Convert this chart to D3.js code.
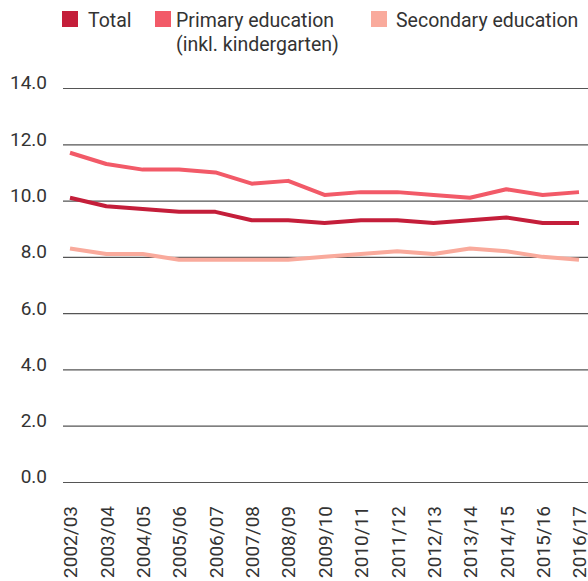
<!DOCTYPE html>
<html>
<head>
<meta charset="utf-8">
<script src="https://cdn.jsdelivr.net/npm/d3@7"></script>
<style>
  body { margin: 0; background: #fff; }
  text { font-family: Roboto, "Noto Sans", sans-serif; fill: #333; }
</style>
</head>
<body>
<div id="chart"></div>
<script>
// school years on the x axis
var years = ["2002/03", "2003/04", "2004/05", "2005/06", "2006/07", "2007/08", "2008/09",
  "2009/10", "2010/11", "2011/12", "2012/13", "2013/14", "2014/15", "2015/16", "2016/17"];

var total     = [10.1, 9.8, 9.7, 9.6, 9.6, 9.3, 9.3, 9.2, 9.3, 9.3, 9.2, 9.3, 9.4, 9.2, 9.2];
var primary   = [11.7, 11.3, 11.1, 11.1, 11.0, 10.6, 10.7, 10.2, 10.3, 10.3, 10.2, 10.1, 10.4, 10.2, 10.3];
var secondary = [8.3, 8.1, 8.1, 7.9, 7.9, 7.9, 7.9, 8.0, 8.1, 8.2, 8.1, 8.3, 8.2, 8.0, 7.9];

var yTicks = [0, 2, 4, 6, 8, 10, 12, 14];

var seriesNames = ["Total", "Primary education", "Secondary education"];

var width = 588, height = 581;
var colors = ["#c41e3a", "#f25a68", "#f9aa9c"];

var svg = d3.select("#chart")
  .append("svg")
  .attr("width", width)
  .attr("height", height);

// scales
var x = d3.scalePoint()
  .domain(years)
  .range([70, 579]);

var y = d3.scaleLinear()
  .domain([0, 14])
  .range([482, 88]);

// gridlines + y labels
var yAxis = svg.append("g")
  .attr("transform", "translate(63,0)")
  .call(d3.axisLeft(y).tickValues(yTicks).tickSize(-(width - 63))
    .tickFormat(d3.format(".1f")));
yAxis.select(".domain").remove();
yAxis.selectAll(".tick line").attr("stroke", "#555").attr("stroke-width", 1.2);
yAxis.selectAll(".tick text")
  .attr("font-size", 19)
  .attr("x", -16)
  .attr("dy", "0.05em")
  .style("font-family", "Roboto, sans-serif")
  .attr("fill", "#333");

// x labels (rotated)
var xAxis = svg.append("g")
  .attr("transform", "translate(0,506)")
  .call(d3.axisBottom(x).tickSize(0).tickPadding(0));
xAxis.select(".domain").remove();
xAxis.selectAll(".tick text")
  .attr("font-size", 19)
  .attr("text-anchor", "end")
  .attr("transform", "rotate(-90)")
  .attr("x", 0)
  .attr("y", 0)
  .attr("dy", "0.36em")
  .attr("fill", "#333");

// lines
var line = d3.line()
  .x(function(d, i) { return x(years[i]); })
  .y(function(d) { return y(d); });

var allSeries = [secondary, primary, total];
var allColors = [colors[2], colors[1], colors[0]];

svg.append("g")
  .selectAll("path")
  .data(allSeries)
  .enter()
  .append("path")
  .attr("d", line)
  .attr("fill", "none")
  .attr("stroke", function(d, i) { return allColors[i]; })
  .attr("stroke-width", 4)
  .attr("stroke-linejoin", "round");

// legend
var legendX = [62, 155, 371];
var legendTextX = [88, 176, 396];
var legend = svg.append("g");
seriesNames.forEach(function(name, i) {
  legend.append("rect")
    .attr("x", legendX[i])
    .attr("y", 11)
    .attr("width", 16)
    .attr("height", 16)
    .attr("fill", colors[i]);
  legend.append("text")
    .attr("x", legendTextX[i])
    .attr("y", 27)
    .attr("font-size", 19.5)
    .text(name);
});
legend.append("text")
  .attr("x", legendTextX[1])
  .attr("y", 51)
  .attr("font-size", 19.5)
  .text("(inkl. kindergarten)");
</script>
</body>
</html>
